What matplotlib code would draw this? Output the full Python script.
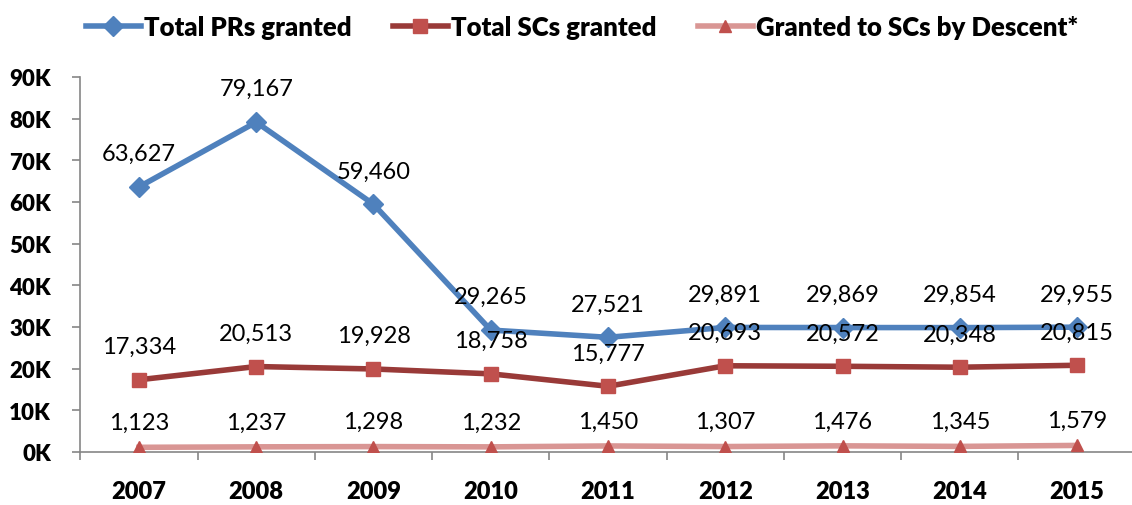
import matplotlib.pyplot as plt

years = ["2007", "2008", "2009", "2010", "2011", "2012", "2013", "2014", "2015"]
total_prs = [63627, 79167, 59460, 29265, 27521, 29891, 29869, 29854, 29955]
total_scs = [17334, 20513, 19928, 18758, 15777, 20693, 20572, 20348, 20815]
scs_descent = [1123, 1237, 1298, 1232, 1450, 1307, 1476, 1345, 1579]

plt.rcParams['font.family'] = ['Lato', 'DejaVu Sans']

fig = plt.figure(figsize=(11.32, 5.06), dpi=100)
ax = fig.add_axes([80 / 1132, 53 / 506, 1052 / 1132, 375 / 506])

x = list(range(len(years)))
series = [
    (total_prs, "Total PRs granted", "#4F81BD", "#4F81BD", "D", 10, 24),
    (total_scs, "Total SCs granted", "#993A38", "#C0504D", "s", 10, 24),
    (scs_descent, "Granted to SCs by Descent*", "#D99694", "#C0504D", "^", 9, 18),
]

for vals, name, lc, mc, mk, ms, off in series:
    ax.plot(x, vals, color=lc, lw=4, marker=mk, markersize=ms,
            markerfacecolor=mc, markeredgecolor=mc, label=name, zorder=3)
    for xi, v in zip(x, vals):
        ax.annotate(f"{v:,}", (xi, v), xytext=(0, off), textcoords="offset points",
                    ha="center", va="center", fontsize=17, color="black")

ax.set_xlim(-0.503, 8.469)
ax.set_ylim(0, 90000)
ax.set_yticks(range(0, 90001, 10000))
ax.set_yticklabels([f"{v // 1000}K" for v in range(0, 90001, 10000)],
                   fontsize=16, fontweight="heavy")
ax.set_xticks(x)
ax.set_xticklabels(years, fontsize=17, fontweight="heavy")
ax.set_xticks([i + 0.5 for i in range(-1, 8)], minor=True)
ax.tick_params(axis="x", which="major", length=0, pad=20)
ax.tick_params(axis="x", which="minor", length=6, color="#868686", width=1.2)
ax.tick_params(axis="y", length=6, color="#868686", width=1.2, pad=15)

for s in ["top", "right"]:
    ax.spines[s].set_visible(False)
for s in ["left", "bottom"]:
    ax.spines[s].set_color("#868686")
    ax.spines[s].set_linewidth(1.2)

fig.legend(loc="upper center", bbox_to_anchor=(0.514, 1.014), ncol=3, frameon=False,
           prop={"weight": "heavy", "size": 18.5}, handlelength=2.15, handletextpad=0.12,
           columnspacing=1.6)

fig.savefig("out.png", dpi=100)
